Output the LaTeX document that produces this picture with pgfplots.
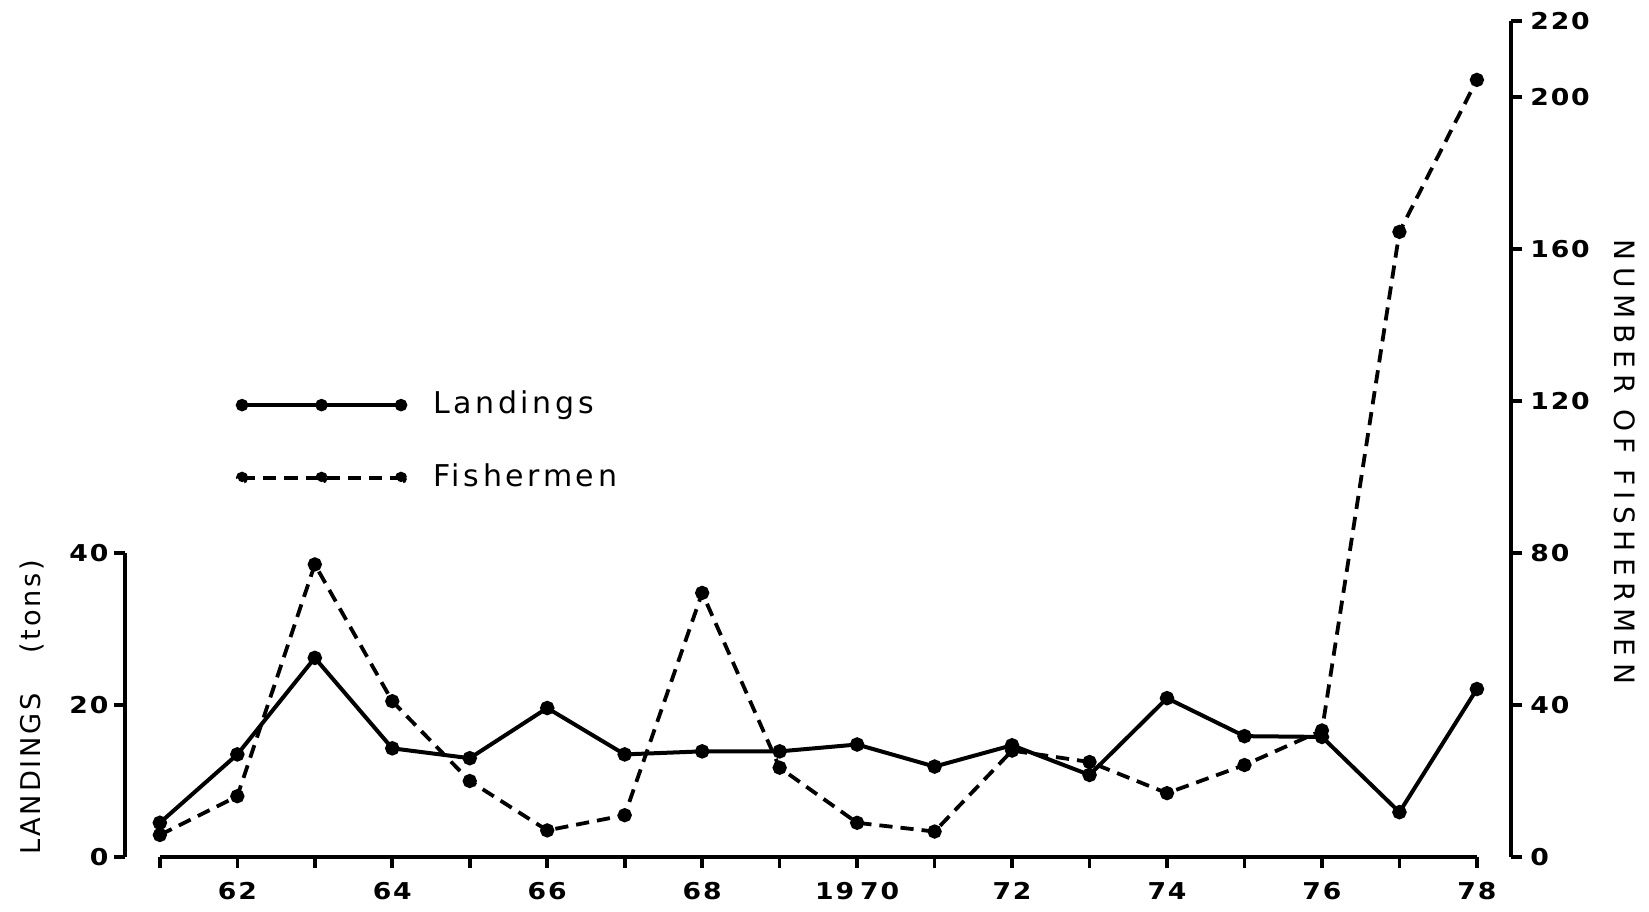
\documentclass[border=0pt]{standalone}
\usepackage{fontspec}
\setmainfont{DejaVu Sans}
\newfontfamily\tickfont[FakeStretch=1.15,LetterSpace=8]{DejaVu Sans}
\newfontfamily\leftlabfont[LetterSpace=10]{DejaVu Sans}
\newfontfamily\rightlabfont[LetterSpace=23]{DejaVu Sans}
\newfontfamily\legfont[LetterSpace=12]{DejaVu Sans}
\usepackage{pgfplots}
\usepackage{pgfplotstable}
\pgfplotsset{compat=1.18}

% Landings (tons), left scale
\pgfplotstableread{
year landings
61 4.5
62 13.5
63 26.2
64 14.3
65 13.0
66 19.6
67 13.5
68 13.9
69 13.9
70 14.8
71 11.9
72 14.7
73 10.8
74 20.9
75 15.9
76 15.8
77 5.9
78 22.1
}\landings

% Number of fishermen, right scale
\pgfplotstableread{
year fishermen
61 5.8
62 16
63 77
64 41
65 20
66 7
67 11
68 69.5
69 23.5
70 9
71 6.7
72 28
73 25
74 16.8
75 24.2
76 33.3
77 164.5
78 204.5
}\fishermen

\pgfplotsset{
  landstyle/.style={black, line width=1pt, mark=*, mark size=1.3pt, mark options={solid}},
  fishstyle/.style={black, line width=0.95pt, dash pattern=on 3.3pt off 2pt, mark=*, mark size=1.3pt, mark options={solid}},
  common/.style={
    width=346.5pt, height=209pt, scale only axis,
    at={(0pt,0pt)}, anchor=south west,
    xmin=60.55, xmax=78.44, clip=false,
    tick align=outside, major tick length=2.8pt,
    tick style={line width=0.9pt, black},
    /pgf/number format/assume math mode=true,
    tick label style={font=\tickfont\bfseries\fontsize{5.8}{6.5}\selectfont},
  },
}

\begin{document}
\begin{tikzpicture}
\useasboundingbox (-31.25pt,-13.5pt) rectangle (381pt,214.25pt);

% left axis: landings
\begin{axis}[common,
  ymin=0, ymax=110,
  axis x line*=bottom, axis y line*=left,
  x axis line style={draw=none}, y axis line style={draw=none},
  xtick={61,...,78},
  xticklabels={,62,,64,,66,,68,,19\hspace{1.5pt}70,,72,,74,,76,,78},
  ytick={0,20,40},
  yticklabel style={xshift=2.2pt},
  ylabel={LANDINGS\hspace{10pt}(tons)},
  ylabel style={font=\leftlabfont\fontsize{6.8}{8}\selectfont, at={(axis description cs:-0.067,0.179)}, anchor=center},
]
\draw[line width=0.9pt] (axis cs:61,0) -- (axis cs:78,0);
\draw[line width=0.9pt] (axis cs:60.55,0) -- (axis cs:60.55,40);
\addplot[landstyle] table[x=year, y=landings] {\landings};
\end{axis}

% right axis: fishermen
\begin{axis}[common,
  ymin=0, ymax=220,
  axis x line=none, axis y line*=right,
  y axis line style={line width=0.9pt},
  ytick={0,40,80,120,160,200,220},
  yticklabel style={xshift=-1.5pt},
  ylabel={NUMBER OF FISHERMEN},
  ylabel style={font=\rightlabfont\fontsize{7}{8}\selectfont, at={(axis description cs:1.0823,0.4725)}, anchor=center, rotate=180},
  legend image code/.code={
    \draw[#1, mark=none] (0pt,0pt) -- (39.75pt,0pt);
    \fill[black] (0pt,0pt) circle[radius=1.05pt] (19.875pt,0pt) circle[radius=1.05pt] (39.75pt,0pt) circle[radius=1.05pt];
  },
  legend style={draw=none, fill=none, at={(axis description cs:0.0794,0.497)}, anchor=west,
    font=\legfont\fontsize{7.5}{9}\selectfont, inner sep=0pt, nodes={inner sep=0pt},
    column sep=6.5pt, row sep=11pt},
  legend cell align=left,
]
\addlegendimage{landstyle}
\addlegendentry{Landings}
\addplot[fishstyle] table[x=year, y=fishermen] {\fishermen};
\addlegendentry{Fishermen}
\end{axis}
\end{tikzpicture}
\end{document}
